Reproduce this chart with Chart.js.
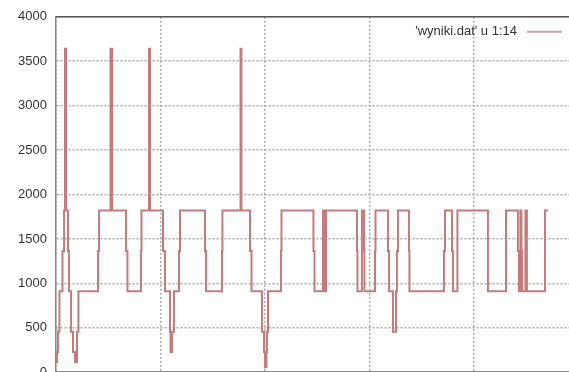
<!DOCTYPE html>
<html>
<head>
<meta charset="utf-8">
<script src="https://cdn.jsdelivr.net/npm/chart.js@4/dist/chart.umd.min.js"></script>
<style>
  html, body { margin: 0; padding: 0; background: #fff; overflow: hidden; }
  #wrap { width: 569px; height: 389px; position: relative; }
</style>
</head>
<body>
<div id="wrap"><canvas id="chart"></canvas></div>
<script>
// step series: x where the value changes, new value
const stepX = [
  0, 1.0, 1.9, 3.3, 6.2, 7.7, 8.6, 8.6, 9.6, 11.5, 12.4, 14.4, 16.3, 18.2, 20.1, 21.5,
  40.2, 41.2, 52.2, 52.2, 53.6, 67.0, 68.4, 81.3, 81.8, 89.0, 89.0, 90.0,
  102.4, 104.3, 109.1, 109.6, 111.0, 112.9, 117.7, 118.7, 142.6, 143.6, 158.9, 159.3,
  176.6, 176.6, 177.5, 185.7, 187.1, 197.1, 199.1, 200.0, 201.4, 201.9, 202.9,
  215.3, 215.8, 246.4, 247.4, 255.5, 257.0, 258.4, 288.1, 288.5, 292.8, 294.8, 295.2,
  305.3, 305.8, 317.7, 318.7, 322.5, 325.4, 326.3, 327.3, 337.8, 338.3,
  371.3, 372.3, 379.0, 379.9, 384.2, 413.4, 430.7, 442.1, 443.0, 444.5, 445.5, 446.0,
  449.3, 450.7, 468.0, 470.8
];
const stepY = [
  114, 228, 455, 910, 1365, 1820, 2730, 3640, 1820, 1365, 910, 455, 228, 114, 455, 910,
  1365, 1820, 2730, 3640, 1820, 1365, 910, 1365, 1820, 2730, 3640, 1820,
  1365, 910, 455, 228, 455, 910, 1365, 1820, 1365, 910, 1365, 1820,
  2730, 3640, 1820, 1365, 910, 455, 228, 57, 228, 455, 910,
  1365, 1820, 1365, 910, 1820, 910, 1820, 1365, 910, 1820, 1365, 910,
  1365, 1820, 1365, 910, 455, 910, 1365, 1820, 1365, 910,
  1365, 1820, 1365, 910, 1820, 910, 1820, 1365, 910, 1820, 1365, 910,
  1820, 910, 1820, 1820
];
const yTicks = [0, 500, 1000, 1500, 2000, 2500, 3000, 3500, 4000];
const xGrid = [0, 100, 200, 300, 400];
const seriesLabel = "'wyniki.dat' u 1:14";

const points = stepX.map((x, i) => ({ x: x, y: stepY[i] }));
const font = "13px 'Liberation Sans', Arial, sans-serif";

// gnuplot style key: text right-aligned, sample line to its right, inside the plot
const keyPlugin = {
  id: "key",
  afterDraw(chart) {
    const ctx = chart.ctx;
    const ds = chart.data.datasets[0];
    const area = chart.chartArea;
    const y = area.top + 15;
    const lineEnd = area.right - 7;
    const lineStart = lineEnd - 35;
    ctx.save();
    ctx.font = font;
    ctx.fillStyle = "#333";
    ctx.textAlign = "right";
    ctx.textBaseline = "middle";
    ctx.fillText(ds.label, lineStart - 10, y);
    ctx.strokeStyle = ds.backgroundColor;
    ctx.lineWidth = 2;
    ctx.beginPath();
    ctx.moveTo(lineStart, y);
    ctx.lineTo(lineEnd, y);
    ctx.stroke();
    ctx.restore();
  },
};

new Chart(document.getElementById("chart"), {
  type: "line",
  data: {
    datasets: [{
      label: seriesLabel,
      data: points,
      stepped: true,
      borderColor: "#c27c7c",
      backgroundColor: "#cba5a5",
      borderWidth: 2,
      pointRadius: 0,
      fill: false,
    }],
  },
  options: {
    responsive: true,
    maintainAspectRatio: false,
    animation: false,
    layout: { padding: { top: 16, right: 0, bottom: 0, left: 0 } },
    plugins: {
      tooltip: { enabled: false },
      legend: { display: false },
    },
    scales: {
      x: {
        type: "linear",
        min: 0,
        max: 491,
        afterBuildTicks: (axis) => { axis.ticks = xGrid.map((v) => ({ value: v })); },
        afterFit: (axis) => { axis.height = 9; },
        ticks: { display: false },
        grid: { color: "#aaa", lineWidth: 1.5, drawTicks: false },
        border: { color: "#888", dash: [2, 2], width: 1.5 },
      },
      top: {
        type: "linear",
        position: "top",
        min: 0,
        max: 491,
        ticks: { display: false },
        grid: { display: false, drawTicks: false },
        border: { color: "#555", width: 1.5 },
      },
      y: {
        min: 0,
        max: 4000,
        afterBuildTicks: (axis) => { axis.ticks = yTicks.map((v) => ({ value: v })); },
        afterFit: (axis) => { axis.width = 56; },
        ticks: {
          color: "#333",
          padding: 9,
          font: { family: "'Liberation Sans', Arial, sans-serif", size: 13 },
          callback: (v) => String(v),
        },
        grid: { color: "#aaa", lineWidth: 1.5, drawTicks: false },
        border: { color: "#888", width: 1.5, dash: [2, 2] },
      },
    },
  },
  plugins: [keyPlugin],
});
</script>
</body>
</html>
